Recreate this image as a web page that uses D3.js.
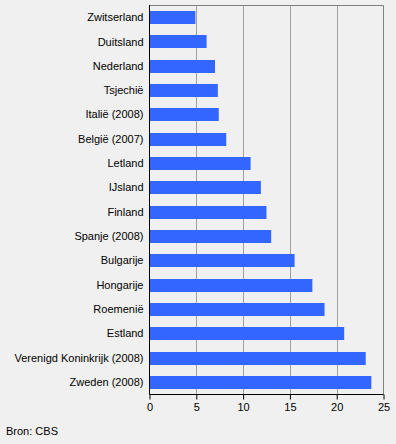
<!DOCTYPE html>
<html>
<head>
<meta charset="utf-8">
<script src="https://cdn.jsdelivr.net/npm/d3@7"></script>
<style>
html,body{margin:0;padding:0;background:#f0f0f0;}
svg{display:block;}
text{font-family:"Liberation Sans",Arial,sans-serif;font-size:11px;fill:#000;}
</style>
</head>
<body>
<script>
const categories = ["Zwitserland","Duitsland","Nederland","Tsjechië","Italië (2008)","België (2007)","Letland","IJsland","Finland","Spanje (2008)","Bulgarije","Hongarije","Roemenië","Estland","Verenigd Koninkrijk (2008)","Zweden (2008)"];
const values = [4.9,6.1,7.0,7.3,7.4,8.2,10.8,11.9,12.5,13.0,15.5,17.4,18.7,20.8,23.1,23.7];
const xTicks = [0,5,10,15,20,25];
const source = "Bron: CBS";

(function(){
const W = 396, H = 444;
const pL = 149.5, pR = 383.5, pT = 5.5, pB = 394.5;

const svg = d3.select("body").append("svg").attr("width", W).attr("height", H);
svg.append("rect").attr("width", W).attr("height", H).attr("fill", "#f0f0f0");

const x = d3.scaleLinear().domain([0, 25]).range([pL, pR]);
const y = d3.scaleBand().domain(categories).range([pT, pB]).paddingInner(0.465).paddingOuter(0.2325);

// gridlines
svg.append("g").selectAll("line").data(xTicks.filter(t => t > 0 && t < 25)).join("line")
  .attr("x1", d => Math.round(x(d)) + 0.5).attr("x2", d => Math.round(x(d)) + 0.5)
  .attr("y1", pT).attr("y2", pB)
  .attr("stroke", "#a0a0a0").attr("stroke-width", 1);

// plot frame (top & right)
svg.append("path")
  .attr("d", `M${pL},${pT}H${pR}V${pB}`)
  .attr("fill", "none").attr("stroke", "#808080").attr("stroke-width", 1);

// bars
svg.append("g").selectAll("rect").data(values).join("rect")
  .attr("x", pL)
  .attr("y", (d, i) => Math.round(y(categories[i])))
  .attr("width", d => x(d) - pL)
  .attr("height", Math.round(y.bandwidth()))
  .attr("fill", "#3366ff");

// x axis
const xAxis = d3.axisBottom(x).tickValues(xTicks).tickSize(5).tickPadding(4).tickFormat(d3.format("d"));
const gx = svg.append("g").attr("transform", `translate(0,${pB})`).call(xAxis);
gx.select(".domain").attr("stroke", "#000").attr("d", `M${pL},0H${pR}`);
gx.selectAll(".tick line").attr("stroke", "#000");
gx.selectAll(".tick text").attr("font-size", 11).attr("font-family", "Liberation Sans, Arial, sans-serif").attr("fill", "#000");

// y axis
const yAxis = d3.axisLeft(y).tickSize(0).tickPadding(6);
const gy = svg.append("g").attr("transform", `translate(${pL},0)`).call(yAxis);
gy.select(".domain").attr("stroke", "#000").attr("d", `M0,${pT - 0.5}V${pB}`);
gy.selectAll(".tick text").attr("font-size", 11).attr("font-family", "Liberation Sans, Arial, sans-serif").attr("fill", "#000");

// source
svg.append("text").attr("x", 6).attr("y", 435).text(source);
})();
</script>
</body>
</html>
